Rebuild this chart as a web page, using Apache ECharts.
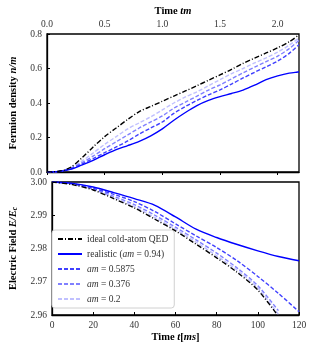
<!DOCTYPE html>
<html><head><meta charset="utf-8">
<script src="https://cdn.jsdelivr.net/npm/echarts@6/dist/echarts.min.js"></script>
<style>html,body{margin:0;padding:0;background:#fff}#c{width:315px;height:350px}</style>
</head><body><div id="c"></div>
<script>
// ---- Data ----
const timeTm = [0, 0.1, 0.2, 0.3, 0.4, 0.5, 0.6, 0.7, 0.8, 0.9, 1.0, 1.1, 1.2, 1.3, 1.4, 1.5, 1.6, 1.7, 1.8, 1.9, 2.0, 2.1, 2.185];
const densIdeal = [0, .004, .025, .08, .145, .205, .255, .305, .35, .38, .41, .44, .47, .50, .532, .563, .595, .63, .66, .69, .72, .755, .795];
const densReal  = [0, .003, .015, .04, .068, .10, .13, .153, .178, .21, .25, .30, .345, .385, .415, .437, .455, .475, .503, .535, .557, .573, .58];
const dens05875 = [0, .003, .018, .046, .078, .112, .145, .18, .22, .255, .29, .34, .38, .415, .447, .476, .51, .545, .578, .61, .643, .688, .738];
const dens0376  = [0, .003, .02, .053, .092, .135, .175, .215, .255, .29, .325, .37, .405, .44, .475, .505, .54, .575, .608, .64, .672, .715, .763];
const dens02    = [0, .004, .022, .062, .11, .16, .205, .25, .285, .32, .36, .40, .435, .465, .50, .535, .57, .60, .632, .662, .695, .735, .777];

const timeMs = [0, 10, 20, 30, 40, 50, 60, 70, 80, 90, 100, 110, 120];
const fieldIdeal = [3.000, 2.9992, 2.9976, 2.9950, 2.9922, 2.9888, 2.9853, 2.9813, 2.9772, 2.9728, 2.9675, 2.9596, null];
const fieldReal  = [3.000, 2.9996, 2.9985, 2.9968, 2.9950, 2.9930, 2.9895, 2.9858, 2.9833, 2.9812, 2.9793, 2.9776, 2.9763];
const field05875 = [3.000, 2.9995, 2.9981, 2.9963, 2.9941, 2.9911, 2.9874, 2.9838, 2.9803, 2.9763, 2.9716, 2.9665, 2.9610];
const field0376  = [3.000, 2.9994, 2.9979, 2.9957, 2.9932, 2.9900, 2.9864, 2.9826, 2.9786, 2.9741, 2.9688, 2.9613, null];
const field02    = [3.000, 2.9993, 2.9978, 2.9953, 2.9926, 2.9893, 2.9858, 2.9819, 2.9778, 2.9734, 2.9681, 2.9602, null];

const seriesNames = ['ideal cold-atom QED', 'realistic (am = 0.94)', 'am = 0.5875', 'am = 0.376', 'am = 0.2'];
const legendLabels = ['ideal cold-atom QED', 'realistic ({i|am} = 0.94)', '{i|am} = 0.5875', '{i|am} = 0.376', '{i|am} = 0.2'];

// ---- Styles ----
const F = 'Liberation Serif, DejaVu Serif, serif';
const styles = [
  {color: '#000000', type: [5, 2, 1, 2], width: 1.4},
  {color: '#0000ff', type: 'solid', width: 1.4},
  {color: '#4040ff', type: [4, 2], width: 1.4},
  {color: '#8080ff', type: [4, 2], width: 1.4},
  {color: '#c0c0ff', type: [4, 2], width: 1.4}
];
const topData = [densIdeal, densReal, dens05875, dens0376, dens02];
const botData = [fieldIdeal, fieldReal, field05875, field0376, field02];

function pairs(xs, ys) { return xs.map((x, i) => [x, ys[i]]); }

const series = [];
for (let k = 0; k < 5; k++) {
  series.push({
    name: seriesNames[k], type: 'line', xAxisIndex: 0, yAxisIndex: 0,
    data: pairs(timeTm, topData[k]), smooth: 0.3, showSymbol: false, symbol: 'none',
    lineStyle: styles[k], itemStyle: {color: styles[k].color}, z: 10 - k, animation: false
  });
  series.push({
    name: seriesNames[k], type: 'line', xAxisIndex: 1, yAxisIndex: 1,
    data: pairs(timeMs, botData[k]), smooth: 0.3, showSymbol: false, symbol: 'none', connectNulls: false,
    lineStyle: styles[k], itemStyle: {color: styles[k].color}, z: 10 - k, animation: false
  });
}

const tickLbl = {fontFamily: F, fontSize: 9.5, color: '#333'};
const nameStyle = {fontFamily: F, fontSize: 10.5, fontWeight: 'bold', color: '#000',
  rich: {i: {fontFamily: F, fontSize: 10.5, fontStyle: 'italic', color: '#000'},
         s: {fontFamily: F, fontSize: 7.5, fontStyle: 'italic', color: '#000', verticalAlign: 'bottom', padding: [4, 0, 0, 0]}}};

const chart = echarts.init(document.getElementById('c'), null, {renderer: 'canvas'});
chart.setOption({
  animation: false,
  backgroundColor: '#fff',
  grid: [
    {left: 47, top: 34, width: 252, height: 138, show: true, borderColor: '#000', borderWidth: 1.3, backgroundColor: 'transparent'},
    {left: 47, top: 182, width: 252, height: 133, show: true, borderColor: '#000', borderWidth: 1.3, backgroundColor: 'transparent'}
  ],
  xAxis: [
    {gridIndex: 0, type: 'value', position: 'top', min: 0, max: 2.185, interval: 0.5,
     name: 'Time {i|tm}', nameLocation: 'middle', nameGap: 17, nameTextStyle: nameStyle,
     axisLine: {lineStyle: {color: '#000', width: 1.3}}, axisTick: {inside: true, length: 3, lineStyle: {color: '#000'}},
     axisLabel: Object.assign({margin: 5, showMaxLabel: false, formatter: v => v.toFixed(1)}, tickLbl), splitLine: {show: false}},
    {gridIndex: 1, type: 'value', min: 0, max: 120, interval: 20,
     name: 'Time {i|t}[{i|ms}]', nameLocation: 'middle', nameGap: 17, nameTextStyle: nameStyle,
     axisLine: {lineStyle: {color: '#000', width: 1.3}}, axisTick: {inside: true, length: 3, lineStyle: {color: '#000'}},
     axisLabel: Object.assign({margin: 5}, tickLbl), splitLine: {show: false}}
  ],
  yAxis: [
    {gridIndex: 0, type: 'value', min: 0, max: 0.8, interval: 0.2,
     name: 'Fermion density {i|n/m}', nameLocation: 'middle', nameGap: 28, nameTextStyle: nameStyle,
     axisLine: {lineStyle: {color: '#000', width: 1.3}}, axisTick: {inside: true, length: 3, lineStyle: {color: '#000'}},
     axisLabel: Object.assign({margin: 5, formatter: v => v.toFixed(1)}, tickLbl), splitLine: {show: false}},
    {gridIndex: 1, type: 'value', min: 2.96, max: 3.00, interval: 0.01,
     name: 'Electric Field {i|E/E}{s|c}', nameLocation: 'middle', nameGap: 32, nameTextStyle: nameStyle,
     axisLine: {lineStyle: {color: '#000', width: 1.3}}, axisTick: {inside: true, length: 3, lineStyle: {color: '#000'}},
     axisLabel: Object.assign({margin: 5, formatter: v => v.toFixed(2)}, tickLbl), splitLine: {show: false}}
  ],
  legend: {
    orient: 'vertical', left: 52, top: 230,
    data: seriesNames,
    backgroundColor: '#fff', borderColor: '#d0d0d0', borderWidth: 1, borderRadius: 3,
    padding: [4, 6, 4, 5], itemWidth: 24, itemHeight: 8, itemGap: 5,
    itemStyle: {opacity: 0},
    formatter: name => legendLabels[seriesNames.indexOf(name)],
    textStyle: {fontFamily: F, fontSize: 9.5, color: '#333',
      rich: {i: {fontFamily: F, fontSize: 9.5, fontStyle: 'italic', color: '#333'}}}
  },
  series: series
});
</script></body></html>
